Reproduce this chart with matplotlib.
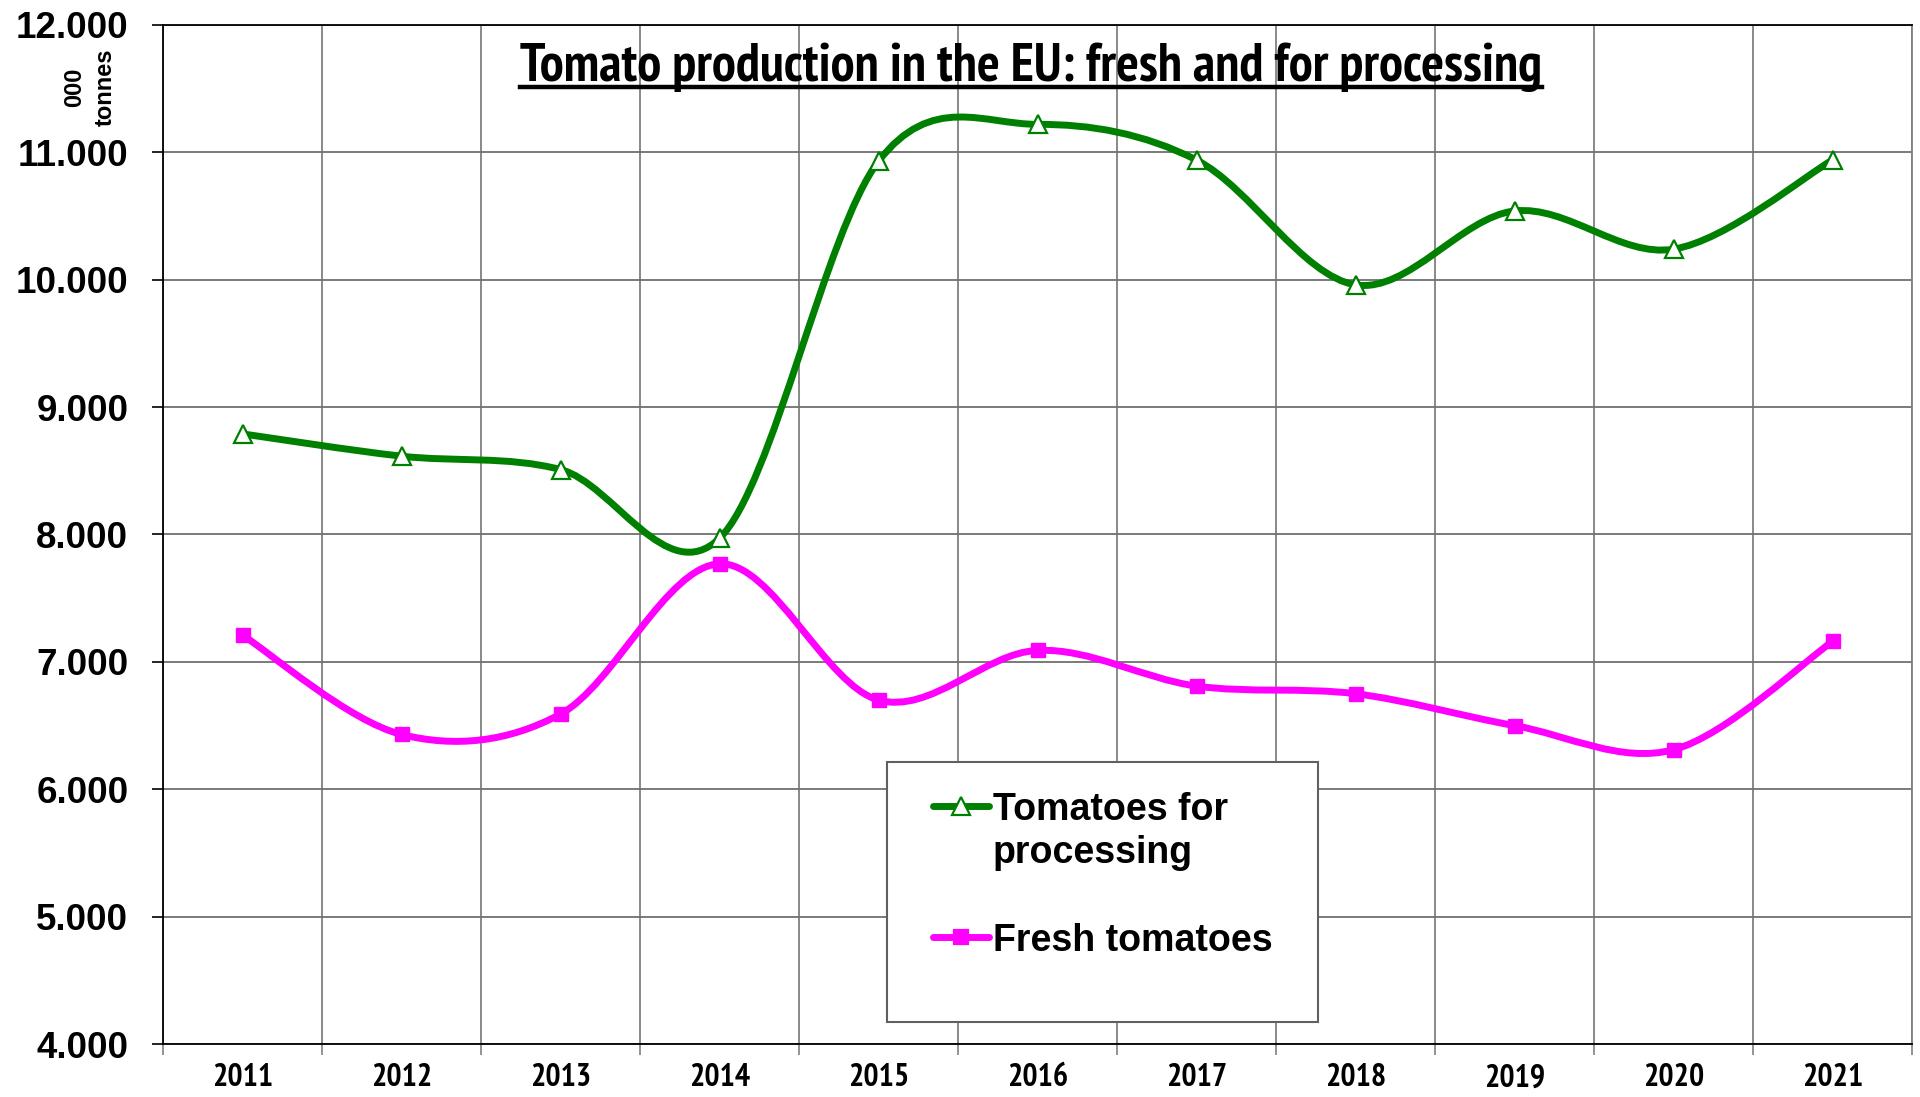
import matplotlib
matplotlib.use("Agg")
import matplotlib.pyplot as plt
from matplotlib import font_manager
from matplotlib.path import Path
from matplotlib.patches import PathPatch, Rectangle
from matplotlib.lines import Line2D

years = ['2011', '2012', '2013', '2014', '2015', '2016', '2017', '2018', '2019', '2020', '2021']
processing = [8790, 8615, 8510, 7970, 10930, 11220, 10940, 9960, 10540, 10240, 10940]
fresh = [7210, 6430, 6590, 7770, 6700, 7090, 6810, 6750, 6500, 6310, 7160]
y_ticks = [4000, 5000, 6000, 7000, 8000, 9000, 10000, 11000, 12000]

title = 'Tomato production in the EU: fresh and for processing'
label_proc = ['Tomatoes for', 'processing']
label_fresh = 'Fresh tomatoes'

GREEN = '#008000'
MAGENTA = '#FF00FF'
GRID = '#808080'

BOLD = 'Liberation Sans'


def pick_narrow():
    # first condensed family that has a real bold face
    bold_names = {f.name for f in font_manager.fontManager.ttflist
                  if f.weight in (700, 'bold') and 'Italic' not in f.fname}
    for name in ['Liberation Sans Narrow', 'Arial Narrow', 'PT Sans Narrow', 'Roboto Condensed',
                 'Open Sans Condensed', 'Archivo Narrow', 'Asap Condensed', 'Barlow Semi Condensed']:
        if name in bold_names:
            return name
    return BOLD


NARROW = pick_narrow()


def smooth_path(xs, ys):
    # Excel-like smoothed line: cubic bezier through the points (Catmull-Rom, 1/6)
    pts = list(zip(xs, ys))
    n = len(pts)
    verts = [pts[0]]
    codes = [Path.MOVETO]
    for i in range(n - 1):
        p0 = pts[max(i - 1, 0)]
        p1 = pts[i]
        p2 = pts[i + 1]
        p3 = pts[min(i + 2, n - 1)]
        c1 = (p1[0] + (p2[0] - p0[0]) / 6, p1[1] + (p2[1] - p0[1]) / 6)
        c2 = (p2[0] - (p3[0] - p1[0]) / 6, p2[1] - (p3[1] - p1[1]) / 6)
        verts += [c1, c2, p2]
        codes += [Path.CURVE4] * 3
    return Path(verts, codes)


W, H = 1920, 1097
fig = plt.figure(figsize=(W / 100, H / 100), dpi=100)
left, right, top, bottom = 163, 1912, 25, 1044
ax = fig.add_axes([left / W, 1 - bottom / H, (right - left) / W, (bottom - top) / H])

x = list(range(len(years)))
ax.set_xlim(-0.5, len(years) - 0.5)
ax.set_ylim(4000, 12000)

# grid
ax.set_yticks(y_ticks)
ax.set_yticklabels([f'{v:,.0f}'.replace(',', '.') for v in y_ticks],
                   fontfamily=BOLD, fontweight='bold', fontsize=26.5)
ax.set_xticks(x)
ax.set_xticklabels(years, fontfamily=NARROW, fontweight='bold', fontsize=23)
ax.set_xticks([i + 0.5 for i in range(-1, len(years))], minor=True)
ax.tick_params(axis='x', which='major', length=0, pad=14)
ax.tick_params(axis='x', which='minor', length=8, width=1.2, color=GRID, direction='out')
ax.tick_params(axis='y', which='major', length=8, width=1.2, color='black', direction='out', pad=17)
ax.grid(True, axis='x', which='minor', color=GRID, linewidth=1.3)
ax.grid(True, axis='y', which='major', color='#707070', linewidth=1.3)
ax.set_axisbelow(True)
for s in ['left', 'bottom', 'top']:
    ax.spines[s].set_color('black')
    ax.spines[s].set_linewidth(1.3)
ax.spines['right'].set_color(GRID)
ax.spines['right'].set_linewidth(1.3)

# series
for ys, col in [(processing, GREEN), (fresh, MAGENTA)]:
    ax.add_patch(PathPatch(smooth_path(x, ys), facecolor='none', edgecolor=col,
                           linewidth=5, capstyle='round', joinstyle='round', zorder=3))
ax.plot(x, processing, linestyle='none', marker='^', markersize=13,
        markerfacecolor='white', markeredgecolor=GREEN, markeredgewidth=1.6, zorder=4)
ax.plot(x, fresh, linestyle='none', marker='s', markersize=10,
        markerfacecolor=MAGENTA, markeredgecolor=MAGENTA, zorder=4)

# y unit label
fig.text(75 / W, 1 - 87 / H, '000', rotation=90, ha='center', va='center',
         fontfamily=BOLD, fontweight='bold', fontsize=17)
fig.text(105 / W, 1 - 87 / H, 'tonnes', rotation=90, ha='center', va='center',
         fontfamily=BOLD, fontweight='bold', fontsize=17)

# title with underline, sized to the reference width
t = fig.text(1031 / W, 1 - 81 / H, title, ha='center', va='baseline',
             fontfamily=NARROW, fontweight='bold', fontsize=36)
fig.canvas.draw()
tw = t.get_window_extent().width
t.set_fontsize(min(40, 36 * 1021 / tw))
fig.canvas.draw()
bb = t.get_window_extent().transformed(fig.transFigure.inverted())
uy = 1 - 87 / H
fig.add_artist(Line2D([bb.x0, bb.x1], [uy, uy], color='black', linewidth=3.2))

# legend box
fig.add_artist(Rectangle((887 / W, 1 - 1022 / H), (1318 - 887) / W, (1022 - 762) / H,
                         facecolor='white', edgecolor='#606060', linewidth=1.5, zorder=5))
hx = [933 / W, 989 / W]
for yy, col, mk, mfc, ms in [(806, GREEN, '^', 'white', 13), (937, MAGENTA, 's', MAGENTA, 10)]:
    fy = 1 - yy / H
    fig.add_artist(Line2D(hx, [fy, fy], color=col, linewidth=5, solid_capstyle='round', zorder=6))
    fig.add_artist(Line2D([sum(hx) / 2], [fy], linestyle='none', marker=mk, markersize=ms,
                          markerfacecolor=mfc, markeredgecolor=col, markeredgewidth=1.6, zorder=7))
fig.text(993 / W, 1 - 806 / H, label_proc[0], ha='left', va='center_baseline',
         fontfamily=BOLD, fontweight='bold', fontsize=27, zorder=7)
fig.text(993 / W, 1 - 849 / H, label_proc[1], ha='left', va='center_baseline',
         fontfamily=BOLD, fontweight='bold', fontsize=27, zorder=7)
fig.text(993 / W, 1 - 937 / H, label_fresh, ha='left', va='center_baseline',
         fontfamily=BOLD, fontweight='bold', fontsize=27, zorder=7)

fig.savefig('out.png', dpi=100)
